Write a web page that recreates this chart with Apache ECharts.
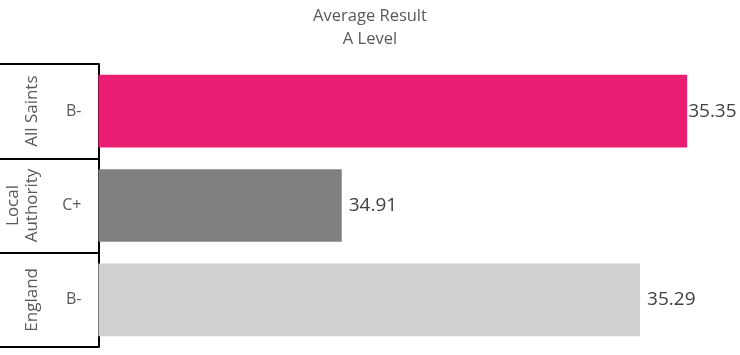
<!DOCTYPE html>
<html><head><meta charset="utf-8">
<script src="https://cdn.jsdelivr.net/npm/echarts@6/dist/echarts.min.js"></script>
<style>html,body{margin:0;padding:0;background:#fff}#c{width:740px;height:355px}</style>
</head><body><div id="c"></div>
<script>
const titleLines = ['Average Result', 'A Level'];
const categories = ['All Saints', 'Local\nAuthority', 'England'];
const grades = ['B-', 'C+', 'B-'];
const values = [35.35, 34.91, 35.29];
const barColors = ['#E91E73', '#808080', '#D0D0D0'];
const axisMin = 34.6, axisMax = 35.4;

const FONT = 'Open Sans';
const chart = echarts.init(document.getElementById('c'), null, {renderer: 'canvas'});
chart.setOption({
  animation: false,
  title: {
    text: titleLines.join('\n'), left: 'center', top: 0,
    textStyle: {fontFamily: FONT, fontSize: 16.5, fontWeight: 'normal', color: '#595959', lineHeight: 23}
  },
  grid: {left: 98.4, right: 13.6, top: 64, bottom: 8, containLabel: false},
  xAxis: {type: 'value', min: axisMin, max: axisMax, show: false},
  yAxis: [
    {type: 'category', inverse: true, data: grades,
     axisLine: {show: true, onZero: false, lineStyle: {color: '#000', width: 2}},
     axisTick: {show: true, interval: 0, length: 99, lineStyle: {color: '#000', width: 2}},
     axisLabel: {interval: 0, margin: 17, color: '#595959', fontFamily: FONT, fontSize: 16}},
    {type: 'category', inverse: true, data: categories, position: 'left',
     axisLine: {show: false}, axisTick: {show: false},
     axisLabel: {interval: 0, hideOverlap: false, margin: 57, rotate: 90, align: 'center', verticalAlign: 'bottom',
                 color: '#595959', fontFamily: FONT, fontSize: 17, lineHeight: 19}}
  ],
  series: [{
    type: 'bar', yAxisIndex: 0, barCategoryGap: '23%',
    data: values.map((v, i) => ({
      value: v,
      itemStyle: {color: barColors[i]},
      label: {distance: i === 0 ? 1 : 7}
    })),
    label: {show: true, position: 'right', color: '#404040', fontFamily: FONT, fontSize: 19,
            formatter: p => p.value.toFixed(2)}
  }]
});
</script></body></html>
